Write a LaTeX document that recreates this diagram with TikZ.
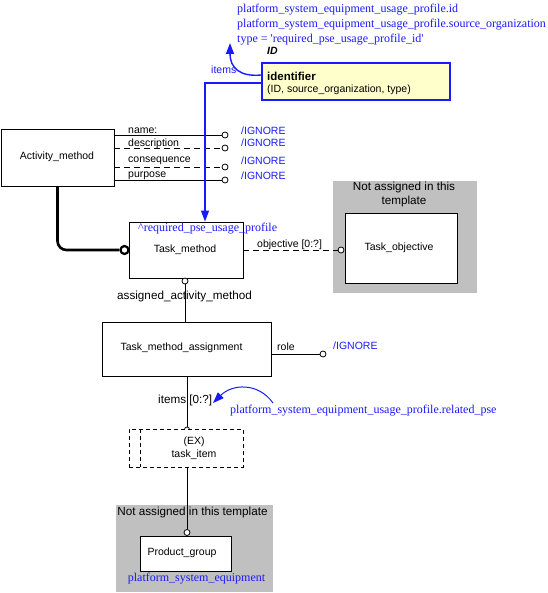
\documentclass[tikz,border=0pt]{standalone}
\usepackage{fontspec}
\setmainfont{Liberation Sans}
\newfontfamily\bserif{Liberation Serif}
\usetikzlibrary{arrows.meta}
\definecolor{ublue}{RGB}{25,25,255}
\definecolor{uyellow}{RGB}{255,255,204}
\definecolor{ugray}{RGB}{192,192,192}
\begin{document}
\begin{tikzpicture}[x=1pt,y=-1pt,
  box/.style={draw=black,fill=white,line width=0.9pt,inner sep=0pt,font=\fontsize{10.5}{12.6}\selectfont},
  graybox/.style={fill=ugray,inner sep=0pt},
  circ/.style={circle,draw=black,fill=white,line width=0.8pt,inner sep=0pt,minimum size=6pt},
  lbl/.style={inner sep=0pt,font=\fontsize{10.5}{12.6}\selectfont},
  biglbl/.style={inner sep=0pt,font=\fontsize{11.7}{14}\selectfont},
  ign/.style={inner sep=0pt,text=ublue,font=\fontsize{10.5}{12.6}\selectfont},
  bsf/.style={inner sep=0pt,text=ublue,font=\bserif\fontsize{12}{15}\selectfont},
  conn/.style={draw=black,line width=0.8pt},
  dconn/.style={draw=black,line width=0.8pt,dash pattern=on 6pt off 4pt},
  bluearr/.style={draw=ublue,line width=1.4pt,-{Triangle[length=11pt,width=8pt]}}
]
\useasboundingbox (0,0) rectangle (547,593);

% gray regions
\node[graybox,minimum width=144pt,minimum height=112pt] (g1) at (405,237) {};
\node[graybox,minimum width=157pt,minimum height=87pt] (g2) at (194.5,548.5) {};
\node[biglbl,align=center] (g1t) at (404,194.5) {Not assigned in this\\template};
\node[biglbl] (g2t) at (192.5,512) {Not assigned in this template};

% top texts
\node[bsf,anchor=base west] (t1) at (237,13) {platform\_system\_equipment\_usage\_profile.id};
\node[bsf,anchor=base west] (t2) at (237,28) {platform\_system\_equipment\_usage\_profile.source\_organization};
\node[bsf,anchor=base west] (t3) at (237,43) {type = 'required\_pse\_usage\_profile\_id'};
\node[inner sep=0pt,anchor=base west,font=\fontsize{10.5}{12.6}\selectfont\bfseries\itshape] (tid) at (267,55) {ID};

% boxes
\node[box,minimum width=113pt,minimum height=57pt] (am) at (57.5,157.5) {};
\node[lbl] (amt) at (57,157) {Activity\_method};
\node[box,minimum width=114pt,minimum height=56pt] (tm) at (186,250) {};
\node[lbl] (tmt) at (185,250) {Task\_method};
\node[bsf,anchor=base west] (tmr) at (138,232) {\textasciicircum required\_pse\_usage\_profile};
\node[box,minimum width=112pt,minimum height=70pt] (to) at (401,248) {};
\node[lbl] (tot) at (399,248) {Task\_objective};
\node[box,minimum width=169pt,minimum height=54pt] (tma) at (186.5,349) {};
\node[lbl] (tmat) at (181.5,348) {Task\_method\_assignment};
\node[circ,minimum size=5pt] (ci) at (187,429.5) {};
\node[box,dash pattern=on 4pt off 3pt,minimum width=114pt,minimum height=38pt] (ti) at (186,448) {};
\draw[conn,dash pattern=on 4pt off 3pt] ([xshift=12pt]ti.north west) -- ([xshift=12pt]ti.south west);
\node[lbl,align=center] (tit) at (194,448) {(EX)\\task\_item};
\node[box,minimum width=91pt,minimum height=35pt] (pg) at (185.5,553.5) {};
\node[lbl] (pgt) at (182,553) {Product\_group};
\node[bsf] (pgb) at (196.5,579) {platform\_system\_equipment};

% identifier box
\node[draw=ublue,fill=uyellow,line width=1.4pt,inner sep=0pt,minimum width=188pt,minimum height=37pt] (ident) at (356,81.5) {};
\node[inner sep=0pt,anchor=base west,font=\fontsize{11.5}{13}\selectfont\bfseries] (idt1) at (267,80.5) {identifier};
\node[lbl,anchor=base west] (idt2) at (267,93) {(ID, source\_organization, type)};

% attribute circles and lines
\node[circ] (c1) at (225,135) {};
\node[circ] (c2) at (225,148) {};
\node[circ] (c3) at (225,167) {};
\node[circ] (c4) at (225,180) {};
\draw[conn] (am.east |- c1) -- (c1);
\draw[dconn] (am.east |- c2) -- (c2);
\draw[dconn] (am.east |- c3) -- (c3);
\draw[conn] (am.east |- c4) -- (c4);
\node[lbl,anchor=base west] (l1) at (128,134) {name:};
\node[lbl,anchor=base west] (l2) at (128,146.5) {description};
\node[lbl,anchor=base west] (l3) at (128,163) {consequence};
\node[lbl,anchor=base west] (l4) at (128,177.5) {purpose};
\node[ign,anchor=west] (i1) at (241,130.5) {/IGNORE};
\node[ign,anchor=west] (i2) at (241,142.5) {/IGNORE};
\node[ign,anchor=west] (i3) at (241,161) {/IGNORE};
\node[ign,anchor=west] (i4) at (241,175.5) {/IGNORE};

% thick supertype connector
\node[circle,draw=black,fill=white,line width=2.2pt,inner sep=0pt,minimum size=8pt] (ct) at (124.5,250) {};
\draw[draw=black,line width=2.6pt,rounded corners=9pt] (am.south) |- (ct);

% task_method to assignment
\node[circ] (ca) at (185,281) {};
\draw[conn] (ca) -- (ca |- tma.north);
\node[biglbl] (aam) at (184.5,296.5) {assigned\_activity\_method};

% objective
\node[circ] (co) at (341,250) {};
\draw[dconn] (tm.east) -- (co);
\node[lbl,anchor=base west] (lob) at (257,247.5) {objective [0:?]};

% role
\node[circ] (cr) at (323,354) {};
\draw[conn] (tma.east |- cr) -- (cr);
\node[lbl,anchor=base west] (lrole) at (277,350) {role};
\node[ign,anchor=west] (ir) at (333,346) {/IGNORE};

% items to task_item
\draw[conn] (ci |- tma.south) -- (ci);
\node[biglbl,anchor=base west] (litems) at (158,403) {items [0:?]};

% task_item to product_group
\node[circ] (cp) at (187,532.5) {};
\draw[conn] (cp |- ti.south) -- (cp);

% blue arrows
\coordinate (bk) at (205,83);
\draw[bluearr] (ident.west |- bk) -- (bk) -- (bk |- tm.north);
\coordinate (ia) at (230,43);
\draw[bluearr] ([yshift=6.5pt]ident.west) .. controls (240,77) and (230,68) .. (ia);
\node[ign,anchor=base west] (litem) at (211,74) {items};
\coordinate (rp) at (213,403);
\coordinate (rs) at (273,403);
\draw[bluearr,line width=1pt] (rs) .. controls (258,382) and (232,384) .. (rp);
\node[bsf,anchor=base west] (rpt) at (230,413) {platform\_system\_equipment\_usage\_profile.related\_pse};
\end{tikzpicture}
\end{document}
